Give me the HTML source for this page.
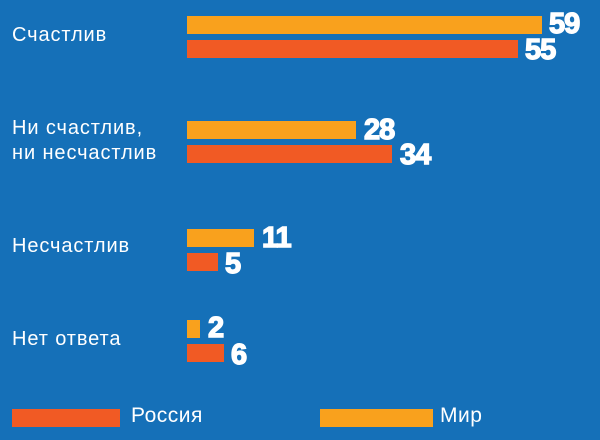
<!DOCTYPE html>
<html><head><meta charset="utf-8"><style>
body{margin:0;width:600px;height:440px;background:#1570b8;overflow:hidden;position:relative;font-family:"Liberation Sans","DejaVu Sans",sans-serif;color:#fff}
.b{position:absolute;left:187px;height:18px}
.m{background:#f9a11d}.r{background:#f15a24}
.n{position:absolute;font-weight:bold;font-size:29px;line-height:28px;-webkit-text-stroke:1.4px #fff;letter-spacing:-1px}
.l{position:absolute;left:12px;font-size:20px;line-height:25px;letter-spacing:0.9px}
</style></head><body>
<div class="l" style="top:23px">Счастлив</div>
<div class="l" style="top:116px">Ни счастлив,<br>ни несчастлив</div>
<div class="l" style="top:234px">Несчастлив</div>
<div class="l" style="top:327px">Нет ответа</div>

<div class="b m" style="top:16px;width:355px"></div><div class="n" style="left:549px;top:10px">59</div>
<div class="b r" style="top:40px;width:331px"></div><div class="n" style="left:525px;top:36px">55</div>

<div class="b m" style="top:121px;width:169px"></div><div class="n" style="left:364px;top:116px">28</div>
<div class="b r" style="top:145px;width:205px"></div><div class="n" style="left:400px;top:141px">34</div>

<div class="b m" style="top:229px;width:67px"></div><div class="n" style="left:262px;top:224px">11</div>
<div class="b r" style="top:253px;width:31px"></div><div class="n" style="left:225px;top:250px">5</div>

<div class="b m" style="top:320px;width:13px"></div><div class="n" style="left:208px;top:314px">2</div>
<div class="b r" style="top:344px;width:37px"></div><div class="n" style="left:231px;top:341px">6</div>

<div style="position:absolute;left:12px;top:409px;width:108px;height:18px;background:#f15a24"></div>
<div style="position:absolute;left:131px;top:404px;font-size:21px;letter-spacing:0.5px">Россия</div>
<div style="position:absolute;left:320px;top:409px;width:113px;height:18px;background:#f9a11d"></div>
<div style="position:absolute;left:440px;top:404px;font-size:21px;letter-spacing:0.5px">Мир</div>
</body></html>
